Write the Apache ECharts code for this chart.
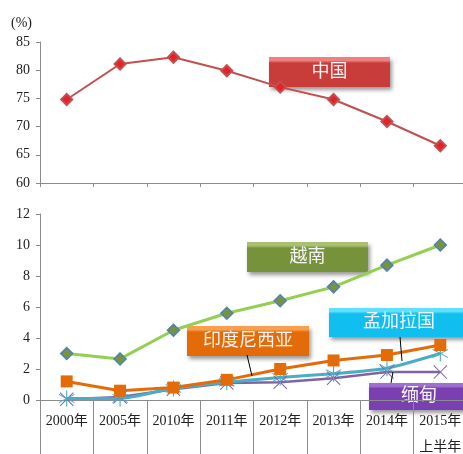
<!DOCTYPE html>
<html>
<head>
<meta charset="utf-8">
<script src="https://cdn.jsdelivr.net/npm/echarts@6/dist/echarts.min.js"></script>
<style>
  html, body { margin: 0; padding: 0; background: #fff; }
  #main { width: 463px; height: 454px; }
</style>
</head>
<body>
<div id="main"></div>
<script>
var years = ['2000年', '2005年', '2010年', '2011年', '2012年', '2013年', '2014年', '2015年\n上半年'];
var china = [74.8, 81.1, 82.3, 79.9, 77.0, 74.8, 70.9, 66.6];
var vietnam = [3.0, 2.65, 4.5, 5.6, 6.4, 7.3, 8.7, 10.0];
var indonesia = [1.2, 0.6, 0.8, 1.3, 2.0, 2.55, 2.9, 3.55];
var bangladesh = [0.1, 0.1, 0.75, 1.15, 1.45, 1.7, 2.05, 3.0];
var myanmar = [0.05, 0.2, 0.7, 1.1, 1.15, 1.4, 1.8, 1.8];

var serif = '"Liberation Serif", "DejaVu Serif", "Noto Sans CJK SC", serif';
var axisGrey = '#8c8c8c';

var star = 'path://M-0.6,-10 L0.6,-10 L0.6,-1 L8.1,-5.6 L8.7,-4.6 L1.2,0 L8.7,4.6 L8.1,5.6 L0.6,1 L0.6,10 L-0.6,10 L-0.6,1 L-8.1,5.6 L-8.7,4.6 L-1.2,0 L-8.7,-4.6 L-8.1,-5.6 L-0.6,-1 Z';
var cross = 'path://M-10,-9 L-9,-10 L0,-1 L9,-10 L10,-9 L1,0 L10,9 L9,10 L0,1 L-9,10 L-10,9 L-1,0 Z';

function grad(top, bottom) {
  return new echarts.graphic.LinearGradient(0, 0, 0, 1, [
    { offset: 0, color: top },
    { offset: 0.12, color: top },
    { offset: 0.2, color: bottom },
    { offset: 1, color: bottom }
  ]);
}

function box(x, y, w, h, text, top, bottom) {
  return {
    type: 'group',
    z: 100,
    children: [
      {
        type: 'rect',
        shape: { x: x, y: y, width: w, height: h },
        style: {
          fill: grad(top, bottom),
          shadowBlur: 4, shadowOffsetX: 2, shadowOffsetY: 3,
          shadowColor: 'rgba(0,0,0,0.4)'
        }
      },
      {
        type: 'text',
        x: x + w / 2, y: y + h / 2,
        style: {
          text: text, fill: '#f4f4f4', font: '18px ' + serif,
          align: 'center', verticalAlign: 'middle'
        }
      }
    ]
  };
}

function leader(x1, y1, x2, y2) {
  return { type: 'line', z: 99, shape: { x1: x1, y1: y1, x2: x2, y2: y2 }, style: { stroke: '#000', lineWidth: 1 } };
}

var chart = echarts.init(document.getElementById('main'));
chart.setOption({
  animation: false,
  grid: [
    { left: 40, top: 42, width: 427, height: 141, outerBoundsMode: 'none', containLabel: false },
    { left: 40, top: 214, width: 427, height: 186, outerBoundsMode: 'none', containLabel: false }
  ],
  xAxis: [
    {
      type: 'category', gridIndex: 0, data: years,
      axisLine: { lineStyle: { color: axisGrey, width: 1 } },
      axisTick: { show: true, interval: 0, length: 4, lineStyle: { color: axisGrey } },
      axisLabel: { show: false }
    },
    {
      type: 'category', gridIndex: 1, data: years,
      axisLine: { lineStyle: { color: axisGrey, width: 1 } },
      axisTick: { show: true, interval: 0, length: 56, lineStyle: { color: axisGrey } },
      axisLabel: { interval: 0, color: '#222', fontFamily: serif, fontSize: 14, margin: 8, lineHeight: 26 }
    }
  ],
  yAxis: [
    {
      type: 'value', gridIndex: 0, min: 60, max: 85, interval: 5,
      name: '(%)', nameLocation: 'end', nameGap: 12,
      nameTextStyle: { color: '#222', fontFamily: serif, fontSize: 14, align: 'right', padding: [0, 8, 0, 0] },
      axisLine: { show: true, lineStyle: { color: axisGrey } },
      axisTick: { show: true, length: 4, lineStyle: { color: axisGrey } },
      splitLine: { show: false },
      axisLabel: { color: '#222', fontFamily: serif, fontSize: 14, margin: 10 }
    },
    {
      type: 'value', gridIndex: 1, min: 0, max: 12, interval: 2,
      axisLine: { show: true, lineStyle: { color: axisGrey } },
      axisTick: { show: true, length: 4, lineStyle: { color: axisGrey } },
      splitLine: { show: false },
      axisLabel: { color: '#222', fontFamily: serif, fontSize: 14, margin: 10 }
    }
  ],
  series: [
    {
      name: '中国', type: 'line', xAxisIndex: 0, yAxisIndex: 0, data: china,
      lineStyle: { color: '#c0504d', width: 2 },
      symbol: 'diamond', symbolSize: 11,
      itemStyle: { color: '#e8202a', borderColor: '#c0504d', borderWidth: 2 }
    },
    {
      name: '越南', type: 'line', xAxisIndex: 1, yAxisIndex: 1, data: vietnam,
      lineStyle: { color: '#92d050', width: 3 },
      symbol: 'diamond', symbolSize: 12,
      itemStyle: { color: '#77933c', borderColor: '#4f81bd', borderWidth: 1.5 }
    },
    {
      name: '缅甸', type: 'line', xAxisIndex: 1, yAxisIndex: 1, data: myanmar,
      lineStyle: { color: '#8064a2', width: 2.5 },
      symbol: cross, symbolSize: 14,
      itemStyle: { color: '#8064a2' }
    },
    {
      name: '孟加拉国', type: 'line', xAxisIndex: 1, yAxisIndex: 1, data: bangladesh,
      smooth: 0.2,
      lineStyle: { color: '#4bacc6', width: 3 },
      symbol: star, symbolSize: 16,
      itemStyle: { color: '#4bacc6' }
    },
    {
      name: '印度尼西亚', type: 'line', xAxisIndex: 1, yAxisIndex: 1, data: indonesia,
      lineStyle: { color: '#e36c09', width: 3 },
      symbol: 'rect', symbolSize: 12,
      itemStyle: { color: '#e36c09' }
    }
  ],
  graphic: [
    leader(247, 355, 252, 376),
    leader(400, 337, 402, 361),
    leader(393, 372, 391, 383),
    box(269, 57, 121, 30, '中国', '#f08080', '#c83c3a'),
    box(247, 242, 121, 30, '越南', '#a8c070', '#76933c'),
    box(187, 326, 122, 30, '印度尼西亚', '#f8a050', '#e36c09'),
    box(329, 308, 140, 29, '孟加拉国', '#60e0ff', '#10bef0'),
    box(369, 383, 100, 27, '缅甸', '#a070d0', '#7a3fb0')
  ]
});
</script>
</body>
</html>
